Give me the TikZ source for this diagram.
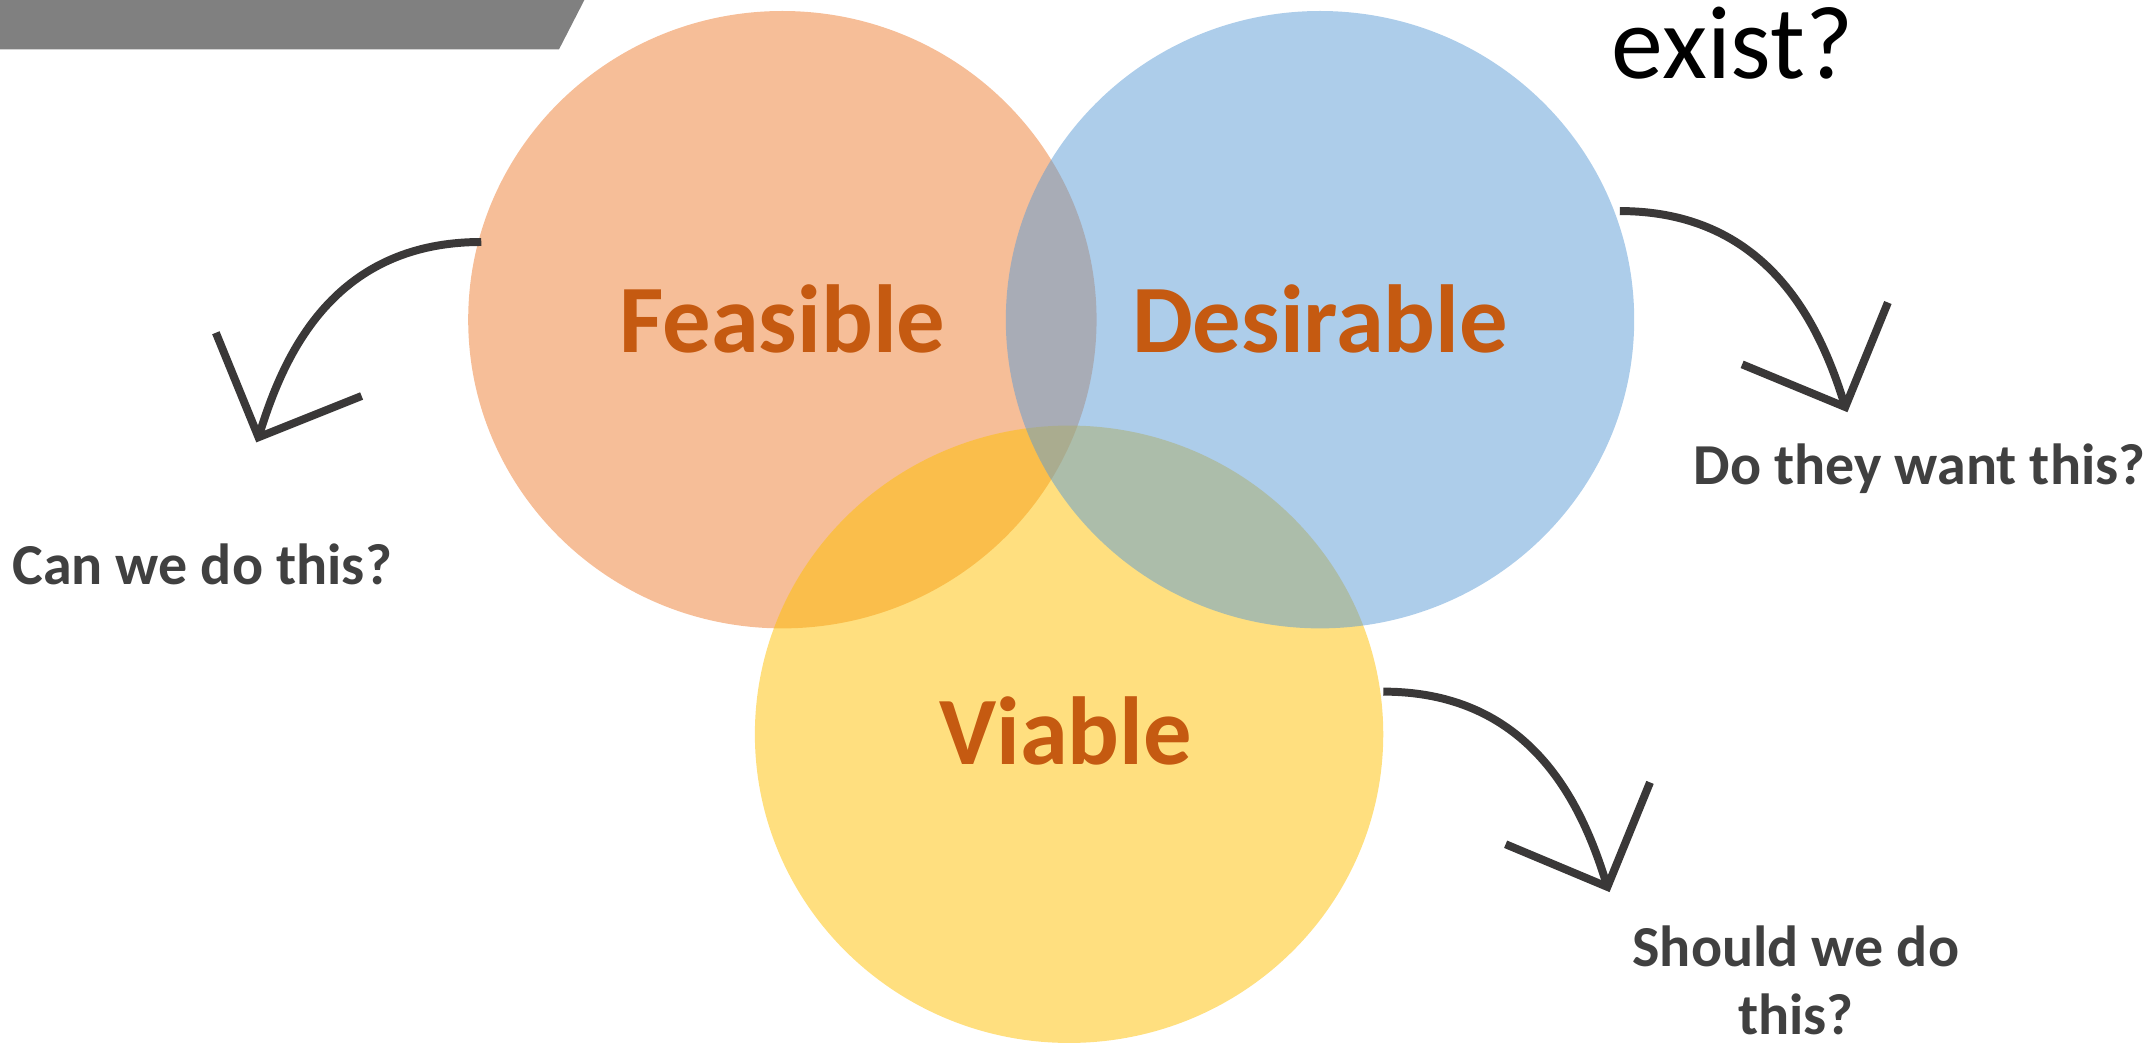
\documentclass[tikz,border=0pt]{standalone}
\usepackage{fontspec}
\setmainfont{Carlito}
\definecolor{orangeC}{HTML}{ED7D31}
\definecolor{blueC}{HTML}{5B9BD5}
\definecolor{yellowC}{HTML}{FFC000}
\definecolor{lblc}{HTML}{C55A11}
\definecolor{qc}{HTML}{404040}
\definecolor{arrc}{HTML}{3A3838}
\definecolor{barc}{HTML}{808080}
\begin{document}
\begin{tikzpicture}[x=0.02cm,y=-0.02cm,
  blob/.style={fill opacity=0.5},
  lbl/.style={font=\bfseries\fontsize{40}{48}\selectfont, text=lblc, anchor=base, inner sep=0pt},
  ques/.style={font=\bfseries\fontsize{24}{28}\selectfont, text=qc, anchor=base, inner sep=0pt, align=center},
  arr/.style={draw=arrc, line width=3.3pt},
  head/.style={draw=arrc, line width=3.3pt, line join=miter, line cap=butt}]
\useasboundingbox (0,0) rectangle (1568,760);
% grey banner
\fill[barc] (0,0) -- (425,0) -- (406.5,36) -- (0,36) -- cycle;
% title fragment
\node[font=\fontsize{43}{50}\selectfont, text=black, anchor=base, inner sep=0pt] (title) at (1260,57) {exist?};
% circles
\fill[orangeC, blob] (569,232.5) ellipse [x radius=228.5, y radius=224.5];
\fill[yellowC, blob] (777.5,534) ellipse [x radius=228.5, y radius=224.5];
\fill[blueC, blob] (960,232.5) ellipse [x radius=228.5, y radius=224.5];
% labels
\node[lbl] (feas) at (569,256) {Feasible};
\node[lbl] (des) at (960,256) {Desirable};
\node[lbl] (via) at (775,556) {Viable};
% questions
\node[ques] (q1) at (147,425) {Can we do this?};
\node[ques] (q2) at (1396,352) {Do they want this?};
\node[ques] (q3) at (1306,752) {Should we do\\this?};
% arrows
\coordinate (a1s) at (350,176);
\coordinate (a1t) at (188,318);
\coordinate (a1h1) at (157,242);
\coordinate (a1h2) at (263,288);
\draw[arr] (a1s) .. controls (240,176) and (205,262) .. (a1t);
\draw[head] (a1h1) -- (a1t) -- (a1h2);
\coordinate (a2s) at (1178,153.5);
\coordinate (a2t) at (1342,296);
\coordinate (a2h1) at (1373,220);
\coordinate (a2h2) at (1267,265);
\draw[arr] (a2s) .. controls (1288,153.5) and (1325,240) .. (a2t);
\draw[head] (a2h1) -- (a2t) -- (a2h2);
\coordinate (a3s) at (1006,503);
\coordinate (a3t) at (1169,645);
\coordinate (a3h1) at (1200,569);
\coordinate (a3h2) at (1095,614);
\draw[arr] (a3s) .. controls (1116,503) and (1152,589) .. (a3t);
\draw[head] (a3h1) -- (a3t) -- (a3h2);
\end{tikzpicture}
\end{document}
